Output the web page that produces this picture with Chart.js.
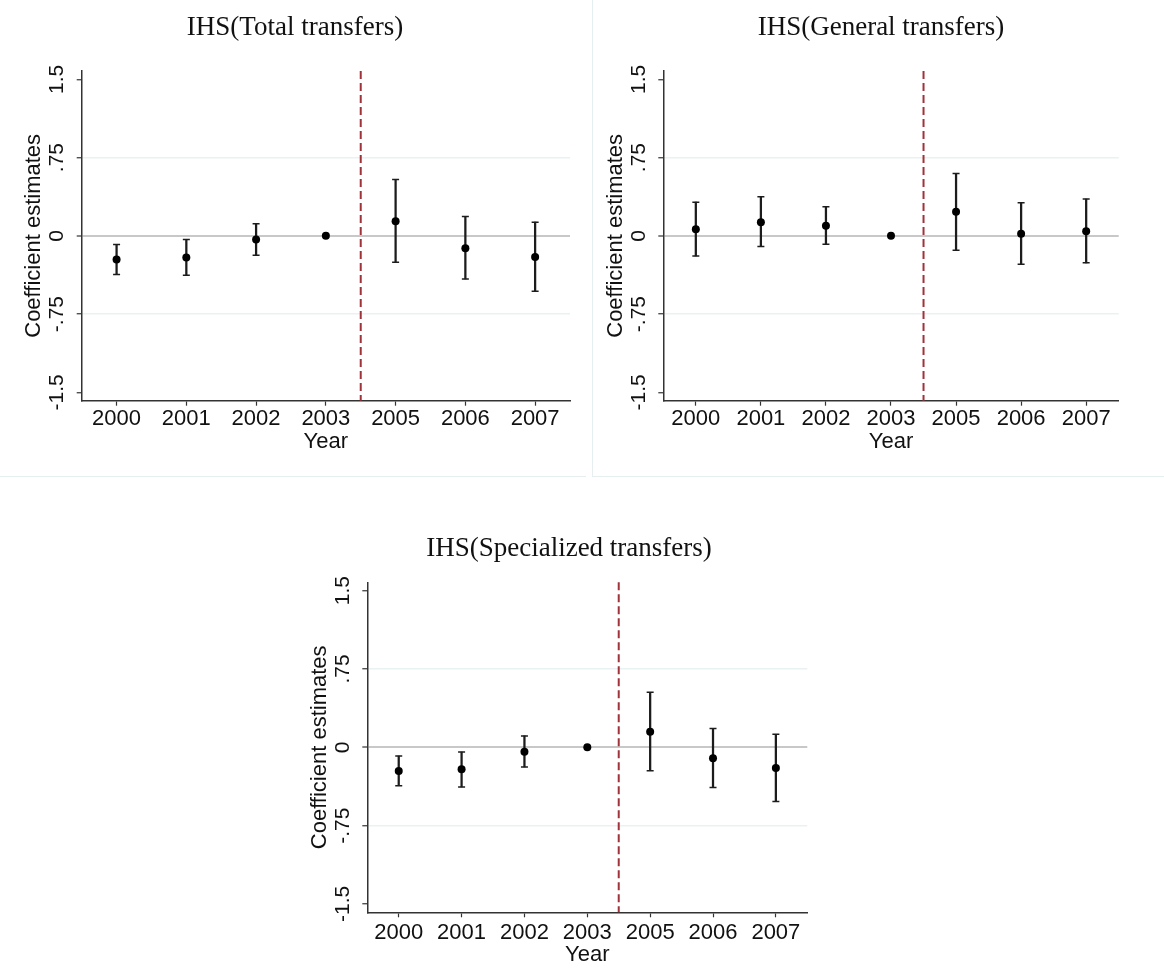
<!DOCTYPE html>
<html>
<head>
<meta charset="utf-8">
<title>Event-study coefficients: IHS transfers</title>
<script src="https://cdn.jsdelivr.net/npm/chart.js@4.4.1/dist/chart.umd.min.js"></script>
<style>
  html, body { margin: 0; padding: 0; background: #ffffff; }
  body { width: 1164px; height: 969px; position: relative; overflow: hidden; }
  .panel { position: absolute; }
  .rule { position: absolute; background: #e6eef0; }
</style>
</head>
<body>
<div class="panel" style="left:0;top:0;width:586px;height:477px;"><canvas id="cTotal" width="586" height="477"></canvas></div>
<div class="panel" style="left:592px;top:0;width:572px;height:477px;"><canvas id="cGeneral" width="572" height="477"></canvas></div>
<div class="panel" style="left:0;top:480px;width:1164px;height:489px;"><canvas id="cSpecial" width="1164" height="489"></canvas></div>
<div class="rule" style="left:0;top:476px;width:586px;height:1px;"></div>
<div class="rule" style="left:592px;top:0;width:1px;height:477px;"></div>
<div class="rule" style="left:592px;top:476px;width:572px;height:1px;"></div>
<script>
// Event years (2004 is the omitted reform year; 2003 is the reference period)
const years = ['2000', '2001', '2002', '2003', '2005', '2006', '2007'];

// Y axis ticks and their labels
const yTickValues = [-1.5, -0.75, 0, 0.75, 1.5];
const yTickLabels = ['-1.5', '-.75', '0', '.75', '1.5'];

// IHS(Total transfers): point estimates and 95% CI bounds
const totalCoef = [-0.227, -0.208, -0.035, 0, 0.141, -0.118, -0.202];
const totalLow  = [-0.371, -0.377, -0.186, null, -0.253, -0.413, -0.531];
const totalHigh = [-0.083, -0.035, 0.115, null, 0.541, 0.186, 0.131];

// IHS(General transfers)
const generalCoef = [0.064, 0.131, 0.096, 0, 0.230, 0.019, 0.045];
const generalLow  = [-0.192, -0.102, -0.080, null, -0.138, -0.272, -0.259];
const generalHigh = [0.323, 0.374, 0.278, null, 0.598, 0.317, 0.352];

// IHS(Specialized transfers)
const specialCoef = [-0.227, -0.211, -0.042, 0, 0.150, -0.105, -0.198];
const specialLow  = [-0.367, -0.380, -0.188, null, -0.224, -0.386, -0.520];
const specialHigh = [-0.083, -0.045, 0.109, null, 0.527, 0.179, 0.125];

const SANS = '"Liberation Sans", Arial, Helvetica, sans-serif';
const SERIF = '"Liberation Serif", "Times New Roman", serif';
const INK = '#111111';
const AXIS = '#333333';
const WHISKER = '#1c1c1c';
const REFORM = '#a0333a';

Chart.defaults.font.family = SANS;
Chart.defaults.color = INK;

// Draws the panel title, rotated y tick labels, y title and the reform marker
const panelDecor = {
  id: 'panelDecor',
  afterDraw(chart, args, opts) {
    const ctx = chart.ctx;
    const area = chart.chartArea;
    const y = chart.scales.y;
    const x = chart.scales.x;

    // dashed vertical line between 2003 and 2005
    const xr = x.getPixelForValue(3.5);
    ctx.save();
    ctx.strokeStyle = REFORM;
    ctx.lineWidth = 2;
    ctx.setLineDash([8, 4]);
    ctx.beginPath();
    ctx.moveTo(xr, area.top);
    ctx.lineTo(xr, area.bottom);
    ctx.stroke();
    ctx.restore();

    // y tick labels, rotated to read bottom-to-top
    ctx.save();
    ctx.fillStyle = INK;
    ctx.font = '21px ' + SANS;
    ctx.textAlign = 'center';
    ctx.textBaseline = 'middle';
    yTickValues.forEach((v, i) => {
      const py = y.getPixelForValue(v);
      ctx.save();
      ctx.translate(area.left - opts.tickLabelGap, py);
      ctx.rotate(-Math.PI / 2);
      ctx.fillText(yTickLabels[i], 0, 0);
      ctx.restore();
    });

    // y axis title
    ctx.font = '22px ' + SANS;
    ctx.translate(area.left - opts.titleGap, (area.top + area.bottom) / 2);
    ctx.rotate(-Math.PI / 2);
    ctx.fillText('Coefficient estimates', 0, 0);
    ctx.restore();

    // panel heading
    ctx.save();
    ctx.fillStyle = INK;
    ctx.font = '27px ' + SERIF;
    ctx.textAlign = 'center';
    ctx.textBaseline = 'alphabetic';
    ctx.fillText(opts.heading, opts.headingX, opts.headingY);
    ctx.restore();
  }
};

function makePanel(id, heading, coef, low, high, lay) {
  const ranges = low.map((l, i) => (l === null ? null : [l, high[i]]));
  return new Chart(document.getElementById(id), {
    type: 'bar',
    data: {
      labels: years,
      datasets: [
        {
          type: 'line',
          data: coef,
          showLine: false,
          pointStyle: 'circle',
          pointRadius: 4,
          pointBackgroundColor: '#000000',
          pointBorderWidth: 0,
          order: 0
        },
        {
          type: 'line',
          data: high,
          showLine: false,
          pointStyle: 'line',
          pointRadius: 3.5,
          pointBorderColor: WHISKER,
          pointBorderWidth: 1.5,
          order: 1
        },
        {
          type: 'line',
          data: low,
          showLine: false,
          pointStyle: 'line',
          pointRadius: 3.5,
          pointBorderColor: WHISKER,
          pointBorderWidth: 1.5,
          order: 1
        },
        {
          type: 'bar',
          data: ranges,
          backgroundColor: WHISKER,
          borderWidth: 0,
          barThickness: 1.6,
          order: 2
        }
      ]
    },
    options: {
      responsive: false,
      animation: false,
      devicePixelRatio: 1,
      layout: { padding: lay.padding },
      plugins: {
        legend: { display: false },
        tooltip: { enabled: false },
        panelDecor: {
          heading: heading,
          headingX: lay.headingX,
          headingY: lay.headingY,
          tickLabelGap: 24.5,
          titleGap: 47.5
        }
      },
      scales: {
        x: {
          type: 'category',
          offset: true,
          afterFit(scale) { scale.height = lay.xHeight; },
          grid: {
            offset: false,
            drawOnChartArea: false,
            drawTicks: true,
            tickLength: 5,
            tickColor: AXIS,
            tickWidth: 1.2
          },
          border: { display: true, color: AXIS, width: 1.5 },
          ticks: {
            font: { size: 22, family: SANS },
            color: INK,
            padding: lay.tickPad,
            autoSkip: false,
            maxRotation: 0
          },
          title: {
            display: true,
            text: 'Year',
            font: { size: 22, family: SANS },
            color: INK,
            padding: { top: 0, bottom: lay.yearPad }
          }
        },
        y: {
          type: 'linear',
          min: -1.58,
          max: 1.58,
          afterFit(scale) { scale.width = lay.yWidth; },
          afterBuildTicks(scale) { scale.ticks = yTickValues.map(v => ({ value: v })); },
          grid: {
            drawTicks: true,
            tickLength: 5,
            tickColor: AXIS,
            tickWidth: 1.2,
            color(ctx) {
              const v = ctx.tick ? ctx.tick.value : null;
              if (v === 0) return '#c8c8c8';
              if (v === 0.75 || v === -0.75) return '#e9f1f2';
              return 'rgba(0,0,0,0)';
            },
            lineWidth(ctx) {
              return ctx.tick && ctx.tick.value === 0 ? 2 : 1.5;
            }
          },
          border: { display: true, color: AXIS, width: 1.5 },
          ticks: { display: false }
        }
      }
    },
    plugins: [panelDecor]
  });
}

makePanel('cTotal', 'IHS(Total transfers)', totalCoef, totalLow, totalHigh, {
  padding: { left: 0, right: 16, top: 71, bottom: 0 },
  yWidth: 81.7, xHeight: 76.3, yearPad: 21.8, tickPad: 0,
  headingX: 295, headingY: 35
});

makePanel('cGeneral', 'IHS(General transfers)', generalCoef, generalLow, generalHigh, {
  padding: { left: 0, right: 45.3, top: 71, bottom: 0 },
  yWidth: 71.3, xHeight: 76.3, yearPad: 21.8, tickPad: 0,
  headingX: 289, headingY: 35
});

makePanel('cSpecial', 'IHS(Specialized transfers)', specialCoef, specialLow, specialHigh, {
  padding: { left: 285.6, right: 356.7, top: 102.3, bottom: 0 },
  yWidth: 81.7, xHeight: 56.7, yearPad: 0.5, tickPad: 2,
  headingX: 569, headingY: 76
});
</script>
</body>
</html>
